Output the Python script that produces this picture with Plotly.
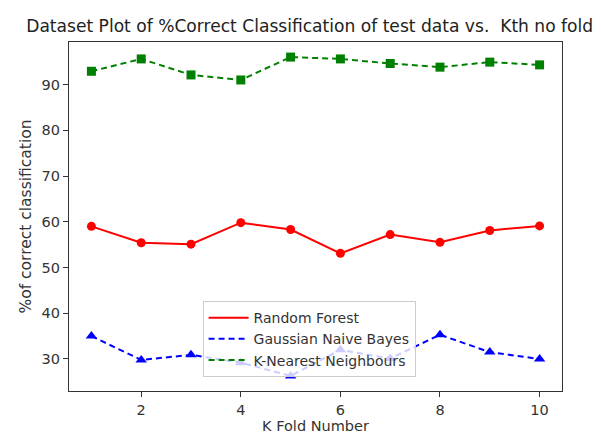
import plotly.graph_objects as go

folds = [1, 2, 3, 4, 5, 6, 7, 8, 9, 10]
random_forest = [59.0, 55.4, 55.1, 59.8, 58.3, 53.1, 57.2, 55.5, 58.1, 59.1]
gaussian_nb = [35.0, 29.8, 30.9, 29.2, 26.3, 32.0, 30.1, 35.3, 31.5, 30.0]
knn = [92.9, 95.6, 92.1, 91.0, 96.0, 95.6, 94.6, 93.8, 94.9, 94.3]

series_names = ["Random Forest", "Gaussian Naive Bayes", "K-Nearest Neighbours"]
series_values = [random_forest, gaussian_nb, knn]
colors = ["#ff0000", "#0000ff", "#008000"]
dashes = ["solid", "6px,4px", "6px,4px"]
symbols = ["circle", "triangle-up", "square"]
msizes = [9, 10, 9]

FONT = "DejaVu Sans"
TXT = "#333333"

fig = go.Figure()
for name, vals, c, d, s, ms in zip(series_names, series_values, colors, dashes, symbols, msizes):
    fig.add_trace(go.Scatter(x=folds, y=vals, name=name, mode="lines+markers", showlegend=False,
                             line=dict(color=c, width=2, dash=d),
                             marker=dict(symbol=s, size=ms, color=c)))
# legend entries (lines only, as in the reference)
for name, c, d in zip(series_names, colors, dashes):
    fig.add_trace(go.Scatter(x=[None], y=[None], name=name, mode="lines",
                             line=dict(color=c, width=2, dash=d)))

axis_common = dict(showgrid=False, zeroline=False, showline=True, linecolor="#333333", linewidth=1.2,
                   mirror=True, ticks="outside", ticklen=5, tickcolor="#333333",
                   tickfont=dict(family=FONT, size=14.5, color=TXT))

fig.update_layout(
    width=601, height=436,
    margin=dict(l=61, r=47, t=34, b=53),
    paper_bgcolor="white", plot_bgcolor="white",
    title=dict(text="Dataset Plot of %Correct Classification of test data vs.  Kth no fold",
               xref="container", x=0.502, xanchor="center", yref="container", y=0.958, yanchor="middle",
               pad=dict(l=0, r=0, t=0, b=0),
               font=dict(family=FONT, size=17.1, color="#222222")),
    xaxis=dict(range=[0.55, 10.45], tickvals=[2, 4, 6, 8, 10],
               title=dict(text="K Fold Number", font=dict(family=FONT, size=14.5, color=TXT), standoff=4),
               **axis_common),
    yaxis=dict(range=[23.0, 99.3], tickvals=[30, 40, 50, 60, 70, 80, 90],
               title=dict(text="%of correct classification", font=dict(family=FONT, size=15.5, color=TXT), standoff=6),
               **axis_common),
    legend=dict(x=0.487, xanchor="center", y=0.04, yanchor="bottom",
                bgcolor="rgba(255,255,255,0.8)", bordercolor="#cccccc", borderwidth=1,
                font=dict(family=FONT, size=14, color=TXT),
                itemwidth=40, tracegroupgap=2),
    showlegend=True,
)

fig.write_html("out.html")
